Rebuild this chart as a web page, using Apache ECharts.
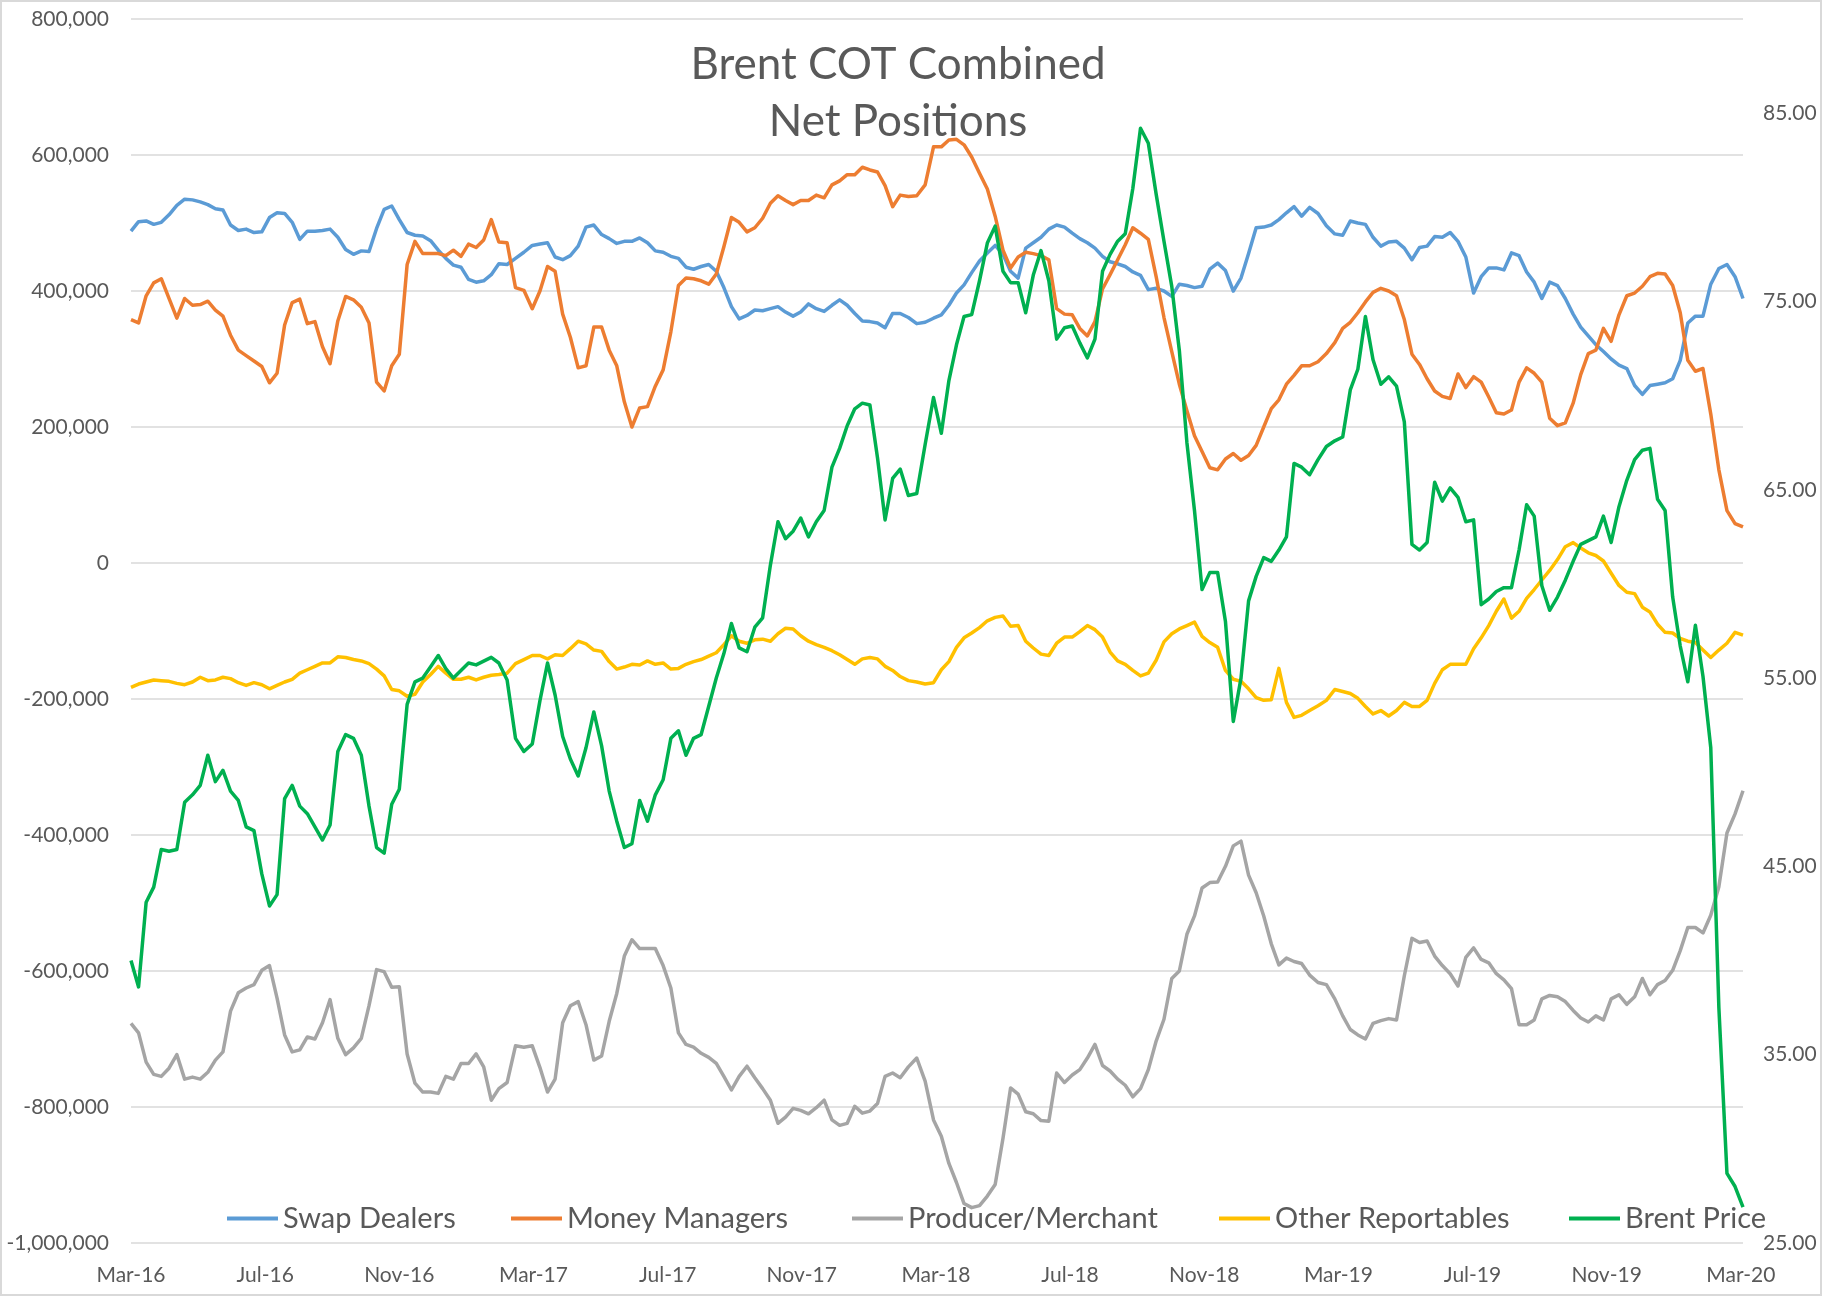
<!DOCTYPE html>
<html>
<head>
<meta charset="utf-8">
<title>Brent COT Combined Net Positions</title>
<script src="https://cdn.jsdelivr.net/npm/echarts@6/dist/echarts.min.js"></script>
<style>
  html, body { margin: 0; padding: 0; background: #fff; }
  #chart { width: 1822px; height: 1296px; }
</style>
</head>
<body>
<div id="chart"></div>
<script>
'use strict';

// weekly COT reports, first one on 1 Mar 2016
var startDate = '2016-03-01';
var tickLabels = ['Mar-16', 'Jul-16', 'Nov-16', 'Mar-17', 'Jul-17', 'Nov-17', 'Mar-18',
  'Jul-18', 'Nov-18', 'Mar-19', 'Jul-19', 'Nov-19', 'Mar-20'];
var seriesNames = ['Swap Dealers', 'Money Managers', 'Producer/Merchant', 'Other Reportables', 'Brent Price'];

// net positions, thousands of contracts
var swapDealers = [
  488, 502, 503, 498, 501, 512, 526, 535, 534, 531,
  527, 521, 519, 497, 489, 491, 486, 487, 508, 515,
  514, 501, 476, 488, 488, 489, 491, 479, 461, 454,
  459, 458, 492, 520, 525, 505, 486, 482, 481, 474,
  460, 448, 438, 435, 417, 413, 415, 424, 440, 439,
  448, 457, 467, 469, 471, 450, 446, 452, 466, 494,
  497, 483, 477, 470, 473, 473, 478, 471, 459, 457,
  451, 448, 435, 432, 436, 439, 429, 405, 377, 359,
  364, 372, 371, 374, 377, 369, 363, 369, 381, 374,
  370, 379, 387, 379, 367, 356, 355, 353, 346, 367,
  367, 361, 352, 354, 360, 365, 379, 397, 409, 427,
  444, 456, 467, 454, 429, 419, 463, 471, 479, 491,
  497, 494, 485, 477, 471, 463, 451, 443, 440, 436,
  428, 423, 402, 404, 400, 392, 410, 408, 405, 407,
  432, 441, 430, 400, 419, 455, 493, 494, 497, 505,
  515, 524, 510, 523, 514, 496, 484, 482, 503, 500,
  498, 479, 466, 472, 473, 463, 446, 464, 466, 480,
  479, 486, 473, 450, 397, 421, 434, 434, 431, 456,
  452, 428, 413, 389, 413, 408, 389, 366, 347, 334,
  321, 311, 300, 291, 286, 261, 248, 261, 263, 265,
  271, 298, 353, 363, 363, 410, 433, 439, 421, 389
];
var moneyManagers = [
  358, 353, 393, 412, 418, 389, 360, 389, 379, 380,
  385, 372, 363, 335, 313, 305, 297, 289, 265, 279,
  350, 383, 388, 352, 355, 318, 293, 356, 392, 387,
  376, 353, 266, 253, 290, 307, 439, 473, 455, 455,
  455, 452, 460, 451, 469, 464, 475, 505, 472, 471,
  405, 401, 374, 400, 436, 429, 366, 332, 287, 290,
  347, 347, 313, 290, 237, 200, 228, 230, 260, 284,
  340, 408, 419, 418, 415, 410, 425, 465, 508, 501,
  487, 493, 507, 529, 540, 533, 527, 533, 533, 541,
  537, 556, 562, 571, 571, 582, 578, 575, 555, 524,
  541, 539, 540, 556, 612, 612, 622, 623, 615, 597,
  573, 550, 510, 460, 434, 450, 457, 455, 452, 446,
  374, 366, 365, 345, 334, 355, 403, 424, 446, 468,
  493, 485, 476, 421, 361, 311, 263, 224, 187, 164,
  140, 137, 153, 161, 151, 158, 173, 200, 227, 240,
  263, 276, 290, 290, 296, 308, 324, 345, 354, 368,
  384, 398, 404, 400, 393, 358, 307, 292, 271, 253,
  245, 242, 278, 258, 274, 266, 244, 221, 219, 225,
  266, 287, 279, 266, 213, 202, 206, 235, 277, 308,
  313, 345, 326, 365, 393, 397, 407, 421, 426, 425,
  408, 368, 298, 282, 286, 219, 137, 77, 58, 53
];
var producerMerchant = [
  -677, -691, -734, -752, -755, -743, -723, -759, -756, -759,
  -749, -731, -719, -659, -632, -625, -620, -599, -592, -640,
  -694, -719, -716, -697, -700, -676, -642, -699, -723, -713,
  -699, -651, -598, -601, -624, -623, -722, -765, -778, -778,
  -780, -755, -759, -736, -736, -722, -741, -790, -773, -764,
  -710, -712, -710, -742, -778, -759, -676, -651, -645, -679,
  -731, -725, -674, -633, -578, -554, -567, -567, -567, -592,
  -625, -691, -708, -712, -721, -727, -736, -755, -775, -755,
  -740, -757, -773, -790, -824, -815, -802, -805, -810, -801,
  -790, -819, -827, -824, -799, -809, -806, -795, -755, -750,
  -757, -741, -728, -762, -819, -843, -883, -911, -942, -948,
  -945, -931, -914, -846, -772, -781, -807, -810, -820, -821,
  -750, -764, -753, -745, -728, -708, -739, -747, -759, -768,
  -785, -773, -745, -703, -671, -611, -600, -546, -519, -478,
  -470, -469, -446, -416, -409, -459, -485, -519, -560, -591,
  -581, -586, -589, -606, -617, -620, -641, -666, -686, -694,
  -700, -677, -673, -670, -672, -607, -552, -558, -556, -578,
  -592, -604, -622, -580, -566, -583, -588, -604, -613, -626,
  -679, -679, -672, -641, -636, -638, -645, -658, -669, -675,
  -666, -672, -641, -635, -649, -638, -611, -635, -620, -614,
  -599, -570, -536, -536, -544, -518, -476, -397, -369, -335
];
var otherReportables = [
  -183, -178, -175, -172, -173, -174, -177, -179, -175, -168,
  -173, -172, -168, -170, -176, -180, -176, -179, -185, -180,
  -175, -171, -162, -157, -152, -147, -147, -138, -139, -142,
  -144, -148, -156, -166, -186, -188, -196, -193, -175, -164,
  -152, -162, -171, -171, -168, -172, -168, -165, -164, -162,
  -148, -142, -136, -136, -141, -135, -136, -126, -115, -119,
  -128, -130, -145, -156, -153, -149, -150, -144, -149, -147,
  -156, -155, -149, -145, -142, -137, -132, -120, -107, -115,
  -118, -113, -112, -115, -104, -96, -97, -107, -115, -120,
  -124, -129, -135, -142, -149, -141, -139, -141, -152, -158,
  -167, -173, -175, -178, -176, -157, -145, -124, -110, -103,
  -95, -85, -80, -78, -93, -92, -115, -125, -134, -136,
  -118, -109, -109, -101, -92, -98, -109, -131, -144, -149,
  -158, -166, -162, -143, -116, -104, -97, -92, -87, -108,
  -117, -124, -158, -171, -174, -185, -198, -202, -201, -155,
  -205, -227, -224, -217, -210, -202, -186, -189, -192, -199,
  -211, -222, -217, -225, -217, -205, -211, -211, -202, -177,
  -157, -149, -149, -149, -126, -110, -92, -71, -53, -81,
  -71, -52, -39, -25, -11, 5, 24, 30, 22, 15,
  11, 3, -15, -33, -43, -45, -65, -72, -90, -102,
  -103, -111, -115, -117, -128, -139, -128, -118, -102, -106
];
// USD per barrel
var brentPrice = [
  40.0, 38.6, 43.1, 43.9, 45.9, 45.8, 45.9, 48.4, 48.8, 49.3,
  50.9, 49.5, 50.1, 49.0, 48.5, 47.1, 46.9, 44.6, 42.9, 43.5,
  48.6, 49.3, 48.2, 47.8, 47.1, 46.4, 47.2, 51.1, 52.0, 51.8,
  50.9, 48.2, 46.0, 45.7, 48.3, 49.1, 53.6, 54.8, 55.0, 55.6,
  56.2, 55.5, 55.0, 55.4, 55.8, 55.7, 55.9, 56.1, 55.8, 54.9,
  51.8, 51.1, 51.5, 53.8, 55.8, 54.1, 51.9, 50.7, 49.8, 51.3,
  53.2, 51.4, 49.0, 47.4, 46.0, 46.2, 48.5, 47.4, 48.8, 49.6,
  51.8, 52.2, 50.9, 51.8, 52.0, 53.5, 55.0, 56.3, 57.9, 56.6,
  56.4, 57.7, 58.2, 61.0, 63.3, 62.4, 62.8, 63.5, 62.5, 63.3,
  63.9, 66.2, 67.2, 68.4, 69.3, 69.6, 69.5, 66.7, 63.4, 65.6,
  66.1, 64.7, 64.8, 67.4, 69.9, 68.0, 70.8, 72.7, 74.2, 74.3,
  76.1, 78.1, 79.0, 76.6, 76.0, 76.0, 74.4, 76.4, 77.7, 76.1,
  73.0, 73.6, 73.7, 72.8, 72.0, 73.0, 76.6, 77.5, 78.2, 78.6,
  81.0, 84.2, 83.4, 80.7, 78.2, 75.8, 72.4, 67.5, 63.9, 59.7,
  60.6, 60.6, 58.0, 52.7, 55.0, 59.1, 60.4, 61.4, 61.2, 61.8,
  62.5, 66.4, 66.2, 65.8, 66.6, 67.3, 67.6, 67.8, 70.3, 71.4,
  74.2, 71.9, 70.6, 71.0, 70.5, 68.6, 62.1, 61.8, 62.2, 65.4,
  64.4, 65.1, 64.6, 63.3, 63.4, 58.9, 59.2, 59.6, 59.8, 59.8,
  61.8, 64.2, 63.6, 59.9, 58.6, 59.3, 60.2, 61.2, 62.1, 62.3,
  62.5, 63.6, 62.2, 64.1, 65.5, 66.6, 67.1, 67.2, 64.5, 63.9,
  59.3, 56.7, 54.8, 57.8, 55.1, 51.3, 37.5, 28.7, 28.0, 26.9
];

var colors = ['#5B9BD5', '#ED7D31', '#A5A5A5', '#FFC000', '#00B050'];
var textColor = '#595959';
var font = 'Lato, "Open Sans", sans-serif';

// x axis counts months from Mar-2016, so the 4-month ticks fall on the 1st of the month
function monthIndex(d) {
  var days = new Date(Date.UTC(d.getUTCFullYear(), d.getUTCMonth() + 1, 0)).getUTCDate();
  return (d.getUTCFullYear() - 2016) * 12 + d.getUTCMonth() - 2 + (d.getUTCDate() - 1) / days;
}
var start = new Date(startDate + 'T00:00:00Z');
var xs = swapDealers.map(function (v, i) {
  return monthIndex(new Date(start.getTime() + i * 7 * 86400000));
});
function pairs(arr, k) {
  return arr.map(function (v, i) { return [xs[i], v * k]; });
}

var chart = echarts.init(document.getElementById('chart'));

var legendLeft = [227, 511, 852, 1219, 1569];
var legends = seriesNames.map(function (name, i) {
  return {
    data: [name],
    left: legendLeft[i],
    top: 1204,
    padding: 0,
    icon: 'rect',
    itemWidth: 51,
    itemHeight: 4,
    itemGap: 0,
    selectedMode: false,
    textStyle: { fontSize: 29, color: textColor, fontFamily: font }
  };
});

function lineSeries(name, data, i, axis) {
  return {
    name: name,
    type: 'line',
    yAxisIndex: axis,
    data: data,
    showSymbol: false,
    symbol: 'none',
    color: colors[i],
    lineStyle: { width: 3.5, color: colors[i], join: 'round' },
    emphasis: { disabled: true },
    z: 2 + i
  };
}

var option = {
  animation: false,
  backgroundColor: '#fff',
  textStyle: { fontFamily: font },
  grid: { left: 131, right: 79, top: 19, bottom: 53 },
  legend: legends,
  graphic: [
    {
      type: 'rect',
      shape: { x: 1, y: 1, width: 1820, height: 1294 },
      style: { fill: null, stroke: '#D9D9D9', lineWidth: 2 },
      silent: true
    },
    {
      type: 'text',
      x: 898, y: 65,
      style: {
        text: 'Brent COT Combined', fill: textColor, font: '44px ' + font,
        textAlign: 'center', textVerticalAlign: 'middle'
      },
      z: 100
    },
    {
      type: 'text',
      x: 898, y: 122,
      style: {
        text: 'Net Positions', fill: textColor, font: '44px ' + font,
        textAlign: 'center', textVerticalAlign: 'middle'
      },
      z: 100
    }
  ],
  xAxis: {
    type: 'value',
    min: 0,
    max: xs[xs.length - 1],
    interval: 4,
    axisLine: { show: false },
    axisTick: { show: false },
    splitLine: { show: false },
    axisLabel: {
      margin: 22,
      fontSize: 21,
      color: textColor,
      fontFamily: font,
      showMaxLabel: true,
      formatter: function (v) {
        var k = Math.round(v / 4);
        return Math.abs(v - k * 4) < 1e-6 ? (tickLabels[k] || '') : '';
      }
    }
  },
  yAxis: [
    {
      type: 'value',
      min: -1000000,
      max: 800000,
      interval: 200000,
      axisLine: { show: false },
      axisTick: { show: false },
      splitLine: { lineStyle: { color: '#D9D9D9', width: 1.5 } },
      axisLabel: {
        margin: 22,
        fontSize: 21,
        color: textColor,
        fontFamily: font,
        formatter: function (v) { return v.toLocaleString('en-US'); }
      }
    },
    {
      type: 'value',
      position: 'right',
      min: 25,
      max: 90,
      interval: 5,
      axisLine: { show: false },
      axisTick: { show: false },
      splitLine: { show: false },
      axisLabel: {
        margin: 20,
        fontSize: 21,
        color: textColor,
        fontFamily: font,
        formatter: function (v) {
          return (v < 90 && Math.round(v - 25) % 10 === 0) ? v.toFixed(2) : '';
        }
      }
    }
  ],
  series: [
    lineSeries(seriesNames[0], pairs(swapDealers, 1000), 0, 0),
    lineSeries(seriesNames[1], pairs(moneyManagers, 1000), 1, 0),
    lineSeries(seriesNames[2], pairs(producerMerchant, 1000), 2, 0),
    lineSeries(seriesNames[3], pairs(otherReportables, 1000), 3, 0),
    lineSeries(seriesNames[4], pairs(brentPrice, 1), 4, 1)
  ]
};

chart.setOption(option);
</script>
</body>
</html>
